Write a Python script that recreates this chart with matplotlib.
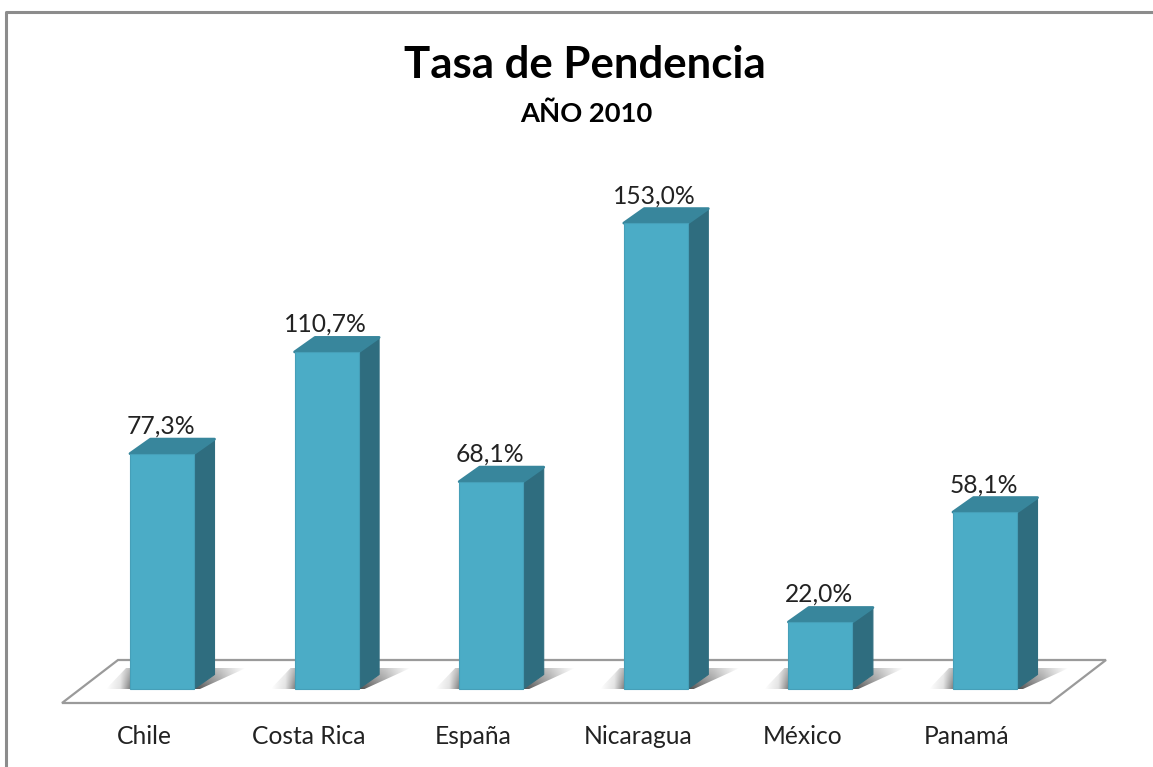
#!/usr/bin/env python3
import numpy as np
import matplotlib
matplotlib.use("Agg")
import matplotlib.pyplot as plt
from matplotlib.patches import Polygon

plt.rcParams['font.family'] = ['Lato', 'DejaVu Sans']

countries = ['Chile', 'Costa Rica', 'España', 'Nicaragua', 'México', 'Panamá']
tasa = [77.3, 110.7, 68.1, 153.0, 22.0, 58.1]
value_labels = ['77,3%', '110,7%', '68,1%', '153,0%', '22,0%', '58,1%']

W, H = 1153, 767
PX_X = 164.6      # px per category
PX_Y = 3.045      # px per percent
X0, Y0 = 162, 689  # pixel of category 0, value 0

FRONT = '#4BACC6'
EDGE = '#469FB8'
SIDE = '#2F6D7F'
TOP = '#38869C'
FLOOR_EDGE = '#9A9A9A'


def px(x):
    return (x - X0) / PX_X


def py(y):
    return (Y0 - y) / PX_Y


fig = plt.figure(figsize=(W / 100, H / 100), dpi=100)
ax = fig.add_axes([0, 0, 1, 1])
ax.set_xlim(px(0), px(W))
ax.set_ylim(py(H), py(0))
ax.axis('off')

# outer frame of the chart area
ax.plot([px(6), px(6), px(W)], [py(H), py(11.5), py(11.5)],
        color='#8C8C8C', lw=2.2, solid_capstyle='butt', zorder=1)

# floor
floor = [(px(62), py(703)), (px(1050), py(703)), (px(1106), py(660)), (px(118), py(660))]
ax.add_patch(Polygon(floor, closed=True, fc='white', ec=FLOOR_EDGE, lw=1.6, zorder=2))

bw = 32 / PX_X
dx = 20.5 / PX_X
dy = 14.5 / PX_Y

# soft shadow on the floor, fades out left, right and towards the back
gx = np.linspace(0, 1, 200)
ramp = np.interp(gx, [0, 0.1, 0.17, 0.63, 0.82, 1], [0, 0.12, 0.5, 0.7, 0.4, 0])
fade = np.linspace(0.55, 1, 40)[:, None]
rgba = np.zeros((40, 200, 4))
rgba[..., 3] = ramp[None, :] * fade

for i, (v, lab) in enumerate(zip(tasa, value_labels)):
    x0, x1 = i - bw, i + bw
    # shadow
    sh = [(x0 - 24 / PX_X, 0), (x1 + 6 / PX_X, 0), (x1 + 52 / PX_X, py(668)),
          (x0 - 4 / PX_X, py(668))]
    clip = Polygon(sh, closed=True, transform=ax.transData, fc='none', ec='none')
    ax.add_patch(clip)
    im = ax.imshow(rgba, extent=[x0 - 24 / PX_X, x1 + 52 / PX_X, 0, py(668)],
                   aspect='auto', zorder=3, interpolation='bilinear')
    im.set_clip_path(clip)
    # bar faces
    ax.add_patch(Polygon([(x1, 0), (x1 + dx, dy), (x1 + dx, v + dy), (x1, v)],
                         closed=True, fc=SIDE, ec=SIDE, lw=0.8, joinstyle='round', zorder=4))
    ax.add_patch(Polygon([(x0, v), (x1, v), (x1 + dx, v + dy), (x0 + dx, v + dy)],
                         closed=True, fc=TOP, ec=TOP, lw=2.0, joinstyle='round', zorder=4))
    ax.bar(i, v, width=2 * bw, color=FRONT, edgecolor=EDGE, lw=0.8, zorder=5)
    ax.text(i - 1.5 / PX_X, v + 20 / PX_Y, lab, ha='center', va='baseline', fontsize=17.7,
            color='#222222', zorder=6)
    ax.text(i - 18 / PX_X, py(737), countries[i], ha='center', va='center', fontsize=17.7,
            color='#222222', zorder=6)

ax.set_xlim(px(0), px(W))
ax.set_ylim(py(H), py(0))

ax.text(px(585), py(64.5), 'Tasa de Pendencia', ha='center', va='center', fontsize=31.5,
        fontweight='bold', color='black')
ax.text(px(586), py(113.5), 'AÑO 2010', ha='center', va='center', fontsize=19.7,
        fontweight='bold', color='black')

fig.savefig('out.png', dpi=100)
